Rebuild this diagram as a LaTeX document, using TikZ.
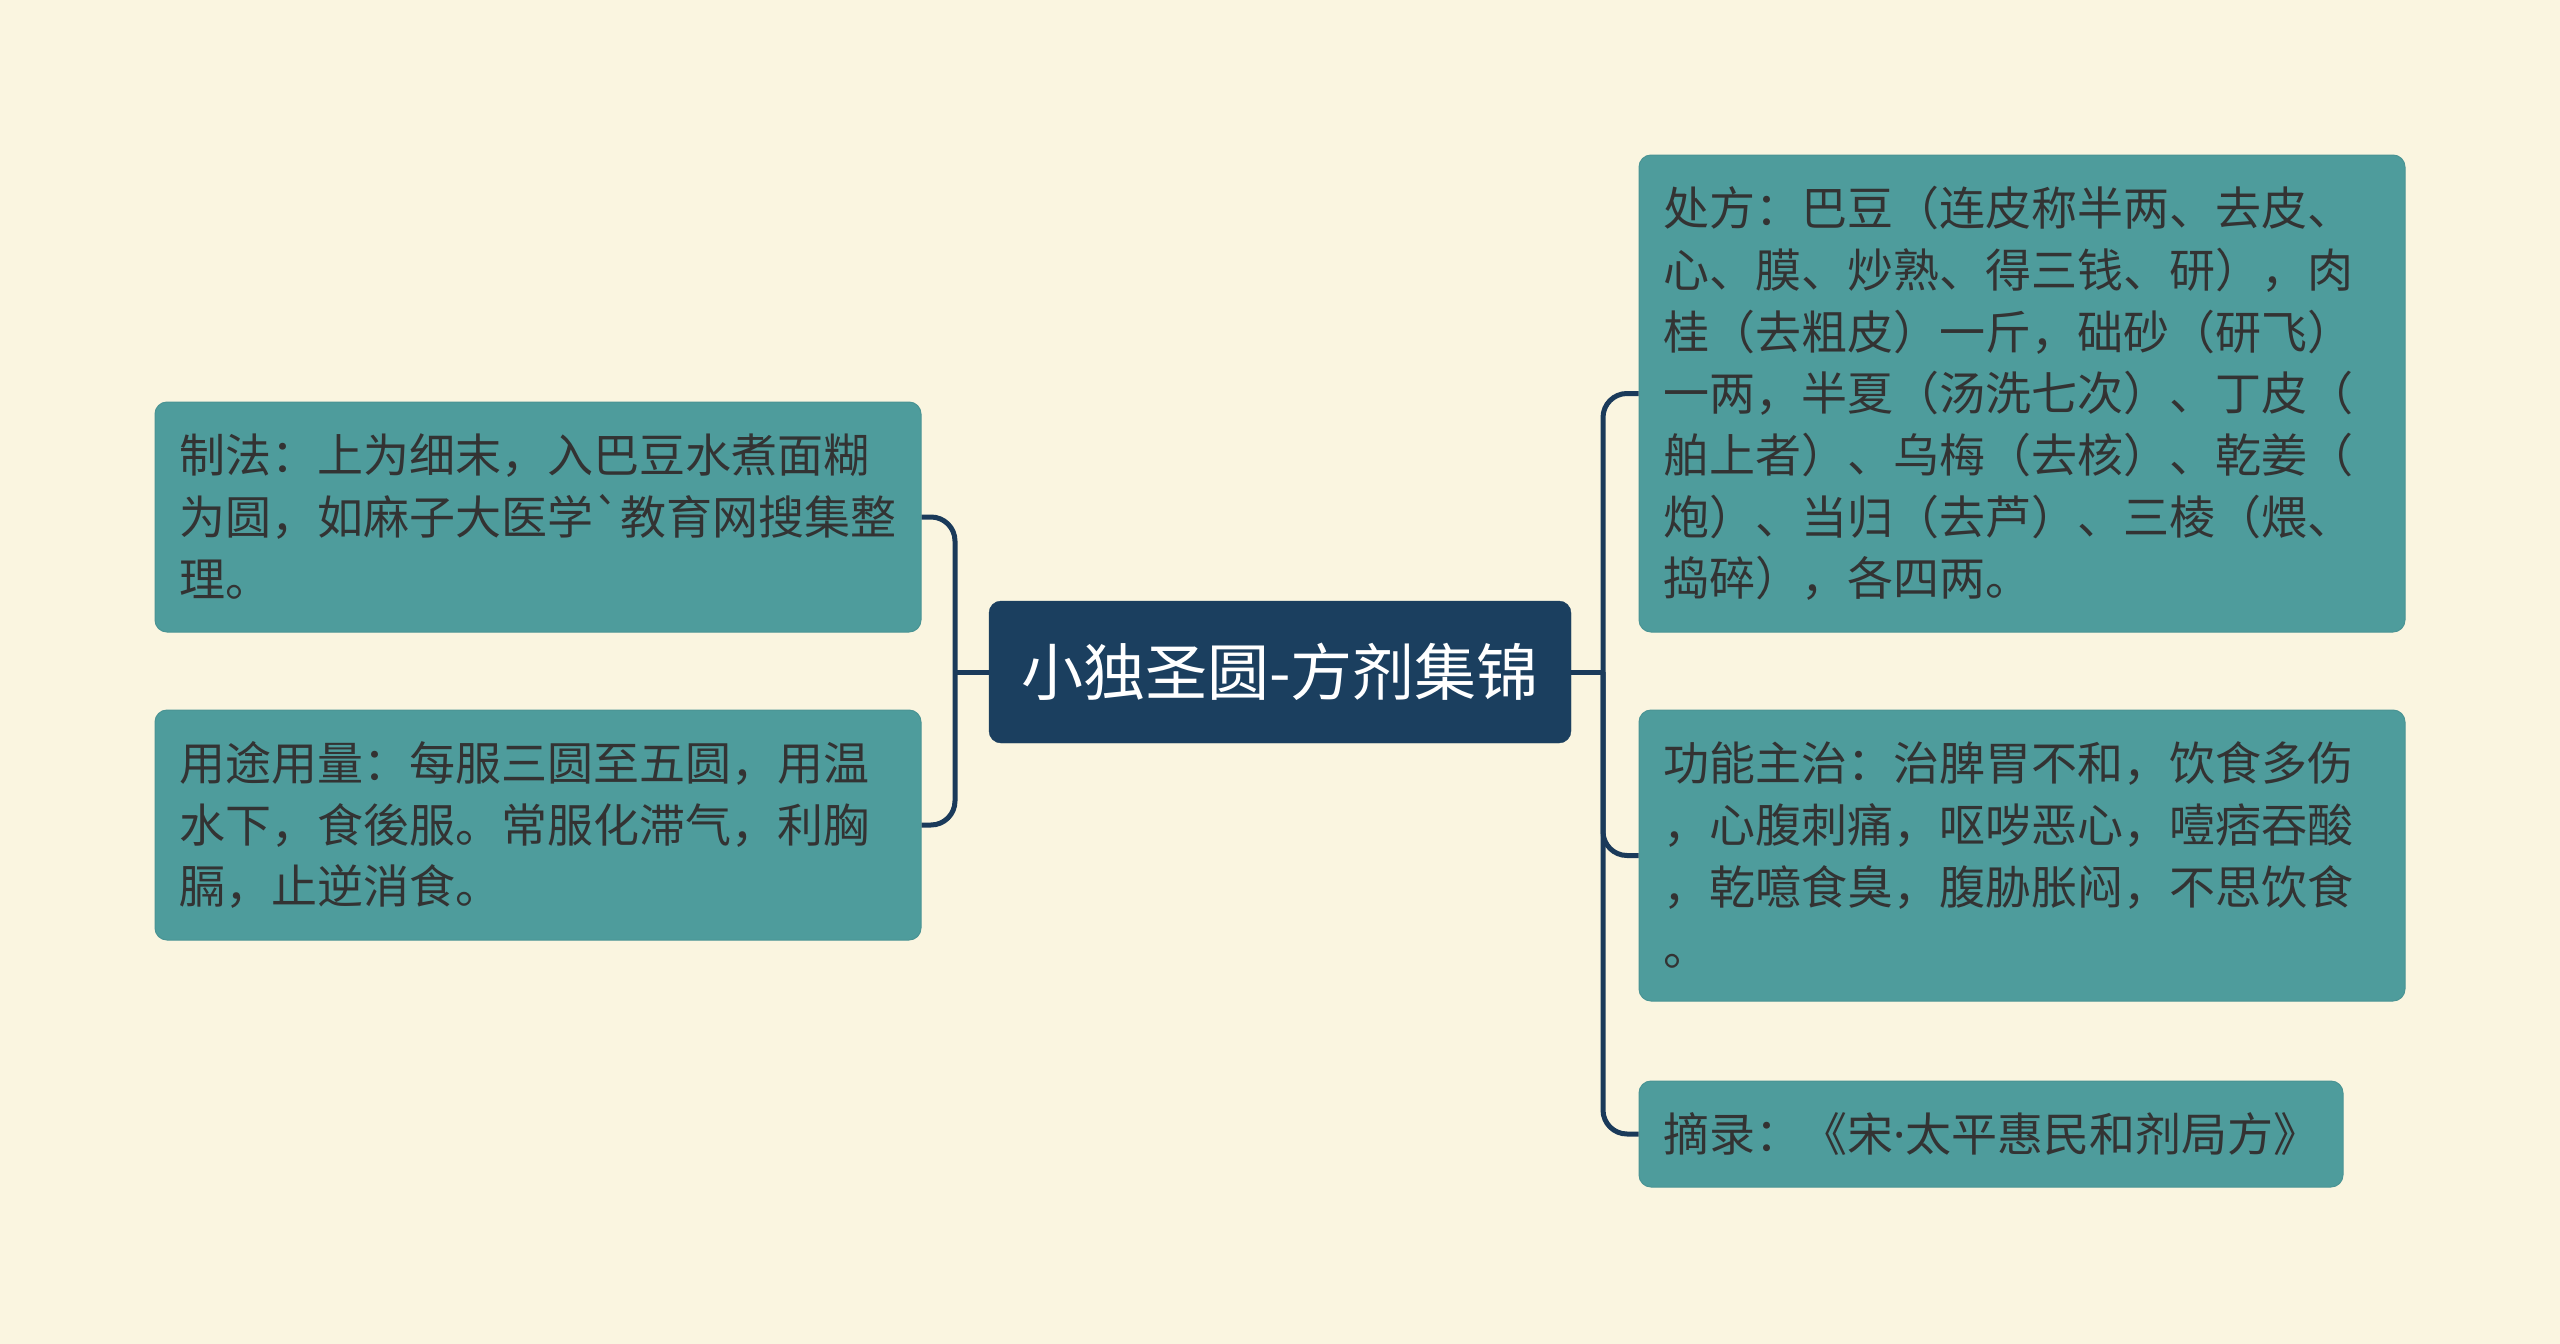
\documentclass[tikz,border=0pt]{standalone}
\usepackage{fontspec}
\newfontfamily\cjk{Noto Sans CJK SC}[Ligatures=TeXOff]
\newfontfamily\latn{Noto Sans}
\definecolor{bgc}{HTML}{FAF5E0}
\definecolor{tealbox}{HTML}{4E9C9C}
\definecolor{tealedge}{HTML}{4A9494}
\definecolor{navy}{HTML}{1B3F5F}
\definecolor{linec}{HTML}{1A3A5A}
\definecolor{txt}{HTML}{333333}
\newcommand\lx{\vphantom{国}}
\tikzset{
  leafbox/.style={draw=tealedge, line width=1pt, fill=tealbox, rounded corners=12pt,
    text=txt, font=\cjk\fontsize{46}{61.7}\selectfont, align=left,
    inner xsep=24pt, inner ysep=0pt, anchor=center},
  rootbox/.style={draw=navy, fill=navy, rounded corners=12pt, text=white,
    font=\cjk\fontsize{62}{70}\selectfont, minimum width=582pt, minimum height=142pt,
    inner sep=0pt},
  conn/.style={draw=linec, line width=5pt, rounded corners=24pt}
}
\begin{document}
\begin{tikzpicture}[x=1pt,y=-1pt]
\fill[bgc] (0,0) rectangle (2560,1344);
\useasboundingbox (0,0) rectangle (2560,1344);

\node[rootbox] (root) at (1280,672) {小独圣圆-方剂集锦};

\node[leafbox, text width=718pt, minimum height=230pt] (lt) at (538,517)
  {\lx 制法：上为细末，入巴豆水煮面糊\\为圆，如麻子大医学`教育网搜集整\\理。\lx};
\node[leafbox, text width=718pt, minimum height=230pt] (lb) at (538,825)
  {\lx 用途用量：每服三圆至五圆，用温\\水下，食後服。常服化滞气，利胸\\膈，止逆消食。\lx};

\node[leafbox, text width=718pt, minimum height=477pt] (rt) at (2022,393.5)
  {\lx 处方：巴豆（连皮称半两、去皮、\\心、膜、炒熟、得三钱、研），肉\\桂（去粗皮）一斤，础砂（研飞）\\一两，半夏（汤洗七次）、丁皮（\\舶上者）、乌梅（去核）、乾姜（\\炮）、当归（去芦）、三棱（煨、\\捣碎），各四两。\lx};
\node[leafbox, text width=718pt, minimum height=291pt] (rm) at (2022,855.5)
  {\lx 功能主治：治脾胃不和，饮食多伤\\，心腹刺痛，呕哕恶心，噎痞吞酸\\，乾噫食臭，腹胁胀闷，不思饮食\\。\lx};
\node[leafbox, text width=656pt, minimum height=106pt] (rb) at (1991,1134)
  {\lx 摘录：《宋{\latn ·}太平惠民和剂局方》\lx};

\coordinate (lj) at (955,672);
\coordinate (rj) at (1603,672);

\draw[conn] (lt.east) -| (lj) |- (lb.east);
\draw[conn] (root.west) -- (lj);
\draw[conn] (rt.west) -| (rj) |- (rb.west);
\draw[conn] (rj) |- (rm.west);
\draw[conn] (root.east) -- (rj);
\end{tikzpicture}
\end{document}
